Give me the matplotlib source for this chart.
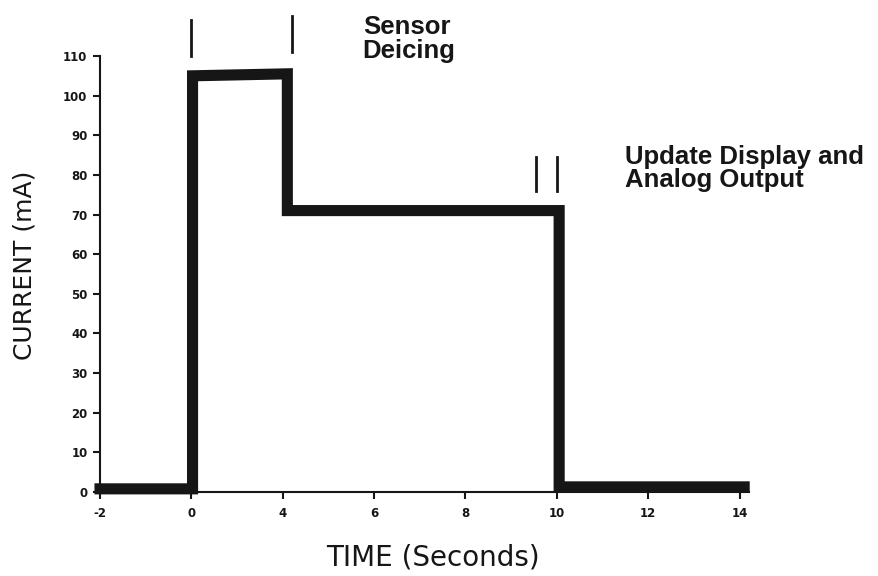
import numpy as np
import matplotlib
matplotlib.use("Agg")
import matplotlib.pyplot as plt

# values
time_s = [-2, 0.05, 0.05, 4.1, 4.1, 10.05, 10.05, 14.1]
current_ma = [0.8, 0.8, 105, 105.5, 71, 71, 1.3, 1.3]

x_ticks = [-2, 0, 4, 6, 8, 10, 12, 14]
x_tick_labels = ["-2", "0", "4", "6", "8", "10", "12", "14"]
y_ticks = list(range(0, 111, 10))

# event marks above the trace: (time, bottom, top)
marks = [(0, 110, 119), (4.2, 111, 120), (9.55, 76, 84.5), (10.0, 76, 84.5)]

labels = [
    ("Sensor\nDeicing", 5.75, 120.3),
    ("Update Display and\nAnalog Output", 11.5, 87.6),
]


# the printed axis has even spacing between -2, 0, 4, 6 ... 14
def fwd(t):
    t = np.asarray(t, dtype=float)
    return np.where(t <= 0, (t + 2) / 2, np.where(t <= 4, 1 + t / 4, 2 + (t - 4) / 2))


def inv(p):
    p = np.asarray(p, dtype=float)
    return np.where(p <= 1, 2 * p - 2, np.where(p <= 2, 4 * (p - 1), 4 + 2 * (p - 2)))


fig = plt.figure(figsize=(8.79, 5.76), dpi=100)
ax = fig.add_axes([0.1138, 0.1458, 0.738, 0.757])
ax.set_xscale("function", functions=(fwd, inv))

ax.plot(time_s, current_ma, color="#161616", lw=8,
        solid_joinstyle="miter", solid_capstyle="projecting", clip_on=False)

for t, y0, y1 in marks:
    ax.plot([t, t], [y0, y1], color="#161616", lw=2, clip_on=False)

for text, t, y in labels:
    ax.text(t, y, text, ha="left", va="top", fontsize=18.5,
            family="Liberation Sans", weight="bold", linespacing=0.98,
            color="#161616", clip_on=False)

ax.set_xlim(-2, 14.2)
ax.set_ylim(0, 110)
ax.set_xticks(x_ticks)
ax.set_xticklabels(x_tick_labels)
ax.set_yticks(y_ticks)
ax.xaxis.set_minor_locator(matplotlib.ticker.NullLocator())

for side in ["top", "right"]:
    ax.spines[side].set_visible(False)
for side in ["left", "bottom"]:
    ax.spines[side].set_linewidth(1.5)
    ax.spines[side].set_color("#161616")

ax.tick_params(axis="both", direction="out", length=5, width=1.5,
               colors="#161616", labelsize=8.5)
ax.tick_params(axis="x", pad=6)
ax.tick_params(axis="y", pad=4)
for lbl in ax.get_xticklabels() + ax.get_yticklabels():
    lbl.set_fontweight("heavy")
    lbl.set_family("DejaVu Sans")

fig.text(0.493, 0.018, "TIME (Seconds)", ha="center", va="baseline",
         fontsize=20, family="DejaVu Sans", color="#161616")
fig.text(0.028, 0.54, "CURRENT (mA)", ha="center", va="center", rotation=90,
         fontsize=18, family="DejaVu Sans", color="#161616")

fig.savefig("out.png", dpi=100, facecolor="white")
